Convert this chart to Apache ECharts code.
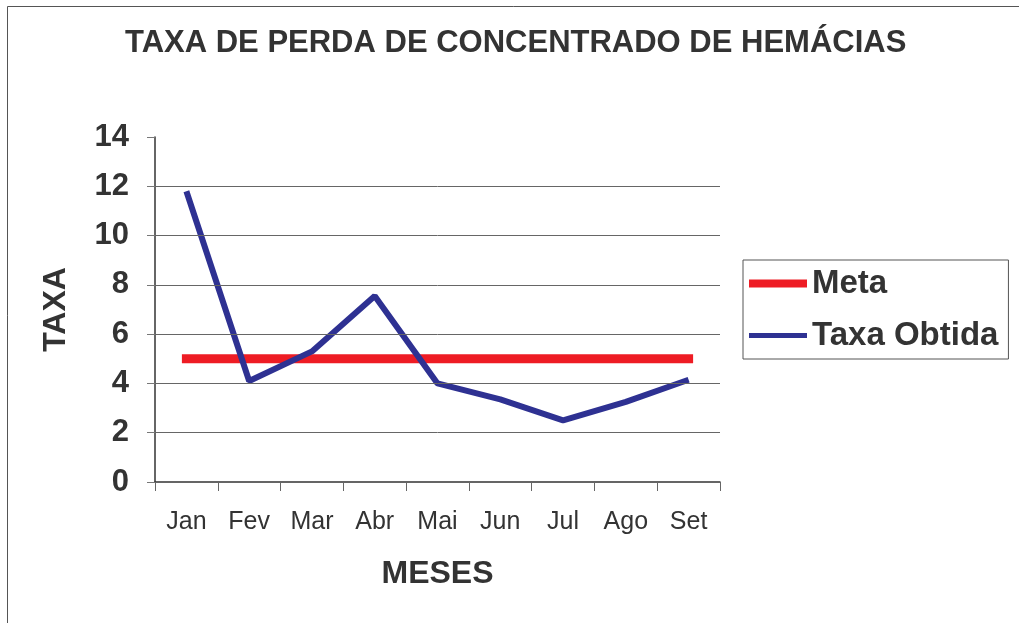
<!DOCTYPE html>
<html>
<head>
<meta charset="utf-8">
<script src="https://cdn.jsdelivr.net/npm/echarts@6/dist/echarts.min.js"></script>
<style>
  html, body { margin: 0; padding: 0; background: #fff; }
  #chart { width: 1019px; height: 623px; }
</style>
</head>
<body>
<div id="chart"></div>
<script>
// months on the x axis
const months = ['Jan', 'Fev', 'Mar', 'Abr', 'Mai', 'Jun', 'Jul', 'Ago', 'Set']
// target rate (constant)
const meta = [5, 5, 5, 5, 5, 5, 5, 5, 5]
// obtained rate per month
const taxaObtida = [11.8, 4.1, 5.3, 7.55, 4.0, 3.35, 2.5, 3.25, 4.15]
// horizontal gridlines (none at the top value 14)
const gridTicks = [2, 4, 6, 8, 10, 12]

const textColor = '#333333'
const font = 'Liberation Sans, Arial, sans-serif'

const chart = echarts.init(document.getElementById('chart'))

chart.setOption({
  animation: false,
  backgroundColor: '#fff',
  title: {
    text: 'TAXA DE PERDA DE CONCENTRADO DE HEMÁCIAS',
    left: 125,
    top: 28,
    padding: 0,
    textStyle: { fontFamily: font, fontSize: 31, fontWeight: 'bold', color: textColor }
  },
  graphic: [{
    type: 'rect',
    shape: { x: 7.5, y: 6.5, width: 1030, height: 640 },
    style: { fill: 'none', stroke: '#555', lineWidth: 1 },
    silent: true
  }],
  legend: {
    orient: 'vertical',
    left: 743,
    top: 260,
    padding: [7, 10, 7, 6],
    itemGap: 19,
    itemWidth: 58,
    itemHeight: 8,
    borderColor: '#555',
    borderWidth: 1,
    textStyle: { fontFamily: font, fontSize: 33, fontWeight: 'bold', color: textColor, padding: [0, 0, 0, 0] },
    data: [
      { name: 'Meta', icon: 'rect', itemStyle: { color: '#ee1c24' } },
      { name: 'Taxa Obtida', icon: 'path://M0,2h58v5h-58z', itemStyle: { color: '#2e3192' } }
    ]
  },
  grid: { left: 155, right: 299, top: 137, bottom: 141 },
  xAxis: {
    type: 'category',
    data: months,
    boundaryGap: true,
    name: 'MESES',
    nameLocation: 'middle',
    nameGap: 76,
    nameTextStyle: { fontFamily: font, fontSize: 32, fontWeight: 'bold', color: textColor },
    axisLine: { lineStyle: { color: '#333', width: 1.5 } },
    axisTick: { show: true, interval: 0, length: 9, lineStyle: { color: '#666' } },
    axisLabel: { margin: 28, fontFamily: font, fontSize: 25, color: textColor, interval: 0 }
  },
  yAxis: {
    type: 'value',
    min: 0,
    max: 14,
    interval: 2,
    name: 'TAXA',
    nameLocation: 'middle',
    nameGap: 83,
    nameRotate: 90,
    nameTextStyle: { fontFamily: font, fontSize: 32, fontWeight: 'bold', color: textColor },
    axisLine: { show: true, lineStyle: { color: '#333', width: 1.5 } },
    axisTick: { show: true, length: 8, lineStyle: { color: '#777' } },
    axisLabel: { margin: 26, fontFamily: font, fontSize: 31, fontWeight: 'bold', color: textColor },
    splitLine: { show: false }
  },
  series: [
    {
      name: 'Meta',
      type: 'line',
      data: meta,
      symbol: 'none',
      itemStyle: { color: '#ee1c24' },
      lineStyle: { color: '#ee1c24', width: 9, cap: 'square' },
      markLine: {
        silent: true,
        symbol: 'none',
        label: { show: false },
        lineStyle: { color: '#666', width: 1, type: 'solid' },
        data: gridTicks.map(v => ({ yAxis: v }))
      },
      z: 2
    },
    {
      name: 'Taxa Obtida',
      type: 'line',
      data: taxaObtida,
      symbol: 'none',
      itemStyle: { color: '#2e3192' },
      lineStyle: { color: '#2e3192', width: 6 },
      z: 3
    }
  ]
})
</script>
</body>
</html>
